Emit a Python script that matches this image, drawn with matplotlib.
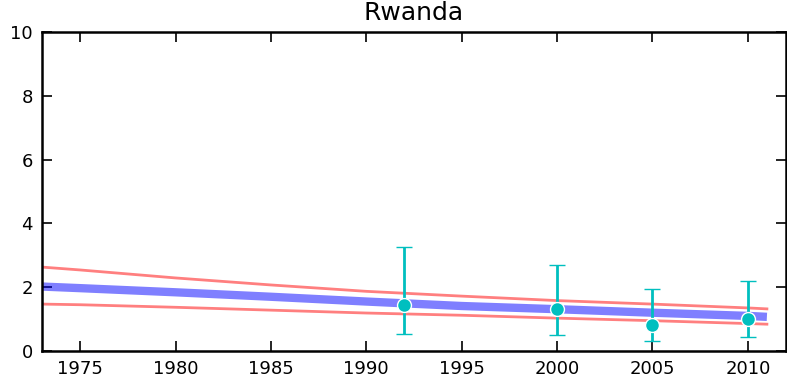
import matplotlib
matplotlib.use("Agg")
import matplotlib.pyplot as plt
import numpy as np

# model fit (median and uncertainty band)
years = [1973, 1975, 1980, 1985, 1990, 1995, 2000, 2005, 2010, 2011]
fit_mid = [2.02, 1.97, 1.84, 1.70, 1.55, 1.41, 1.31, 1.20, 1.10, 1.07]
fit_hi = [2.63, 2.54, 2.29, 2.07, 1.87, 1.72, 1.58, 1.47, 1.35, 1.32]
fit_lo = [1.47, 1.45, 1.37, 1.28, 1.19, 1.12, 1.03, 0.95, 0.86, 0.84]

# survey estimates with error bars
survey_years = [1992, 2000, 2005, 2010]
survey_val = [1.45, 1.32, 0.82, 1.00]
survey_hi = [3.25, 2.70, 1.94, 2.19]
survey_lo = [0.53, 0.50, 0.31, 0.44]

plt.rcParams['font.size'] = 13

fig = plt.figure(figsize=(7.87, 3.83), dpi=100)
ax = fig.add_axes([0.0534, 0.0836, 0.9453, 0.8328])

ax.plot(years, fit_hi, color='red', alpha=0.5, lw=2)
ax.plot(years, fit_lo, color='red', alpha=0.5, lw=2)
ax.plot(years, fit_mid, color='blue', alpha=0.5, lw=6, solid_capstyle='butt')

yerr = [np.array(survey_val) - np.array(survey_lo), np.array(survey_hi) - np.array(survey_val)]
ax.errorbar(survey_years, survey_val, yerr=yerr, fmt='o', color='c', ecolor='c',
            elinewidth=2, capsize=5.5, capthick=2, ms=10, mec='white', mew=1)

ax.set_xlim(1973, 2012)
ax.set_ylim(0, 10)
ax.set_xticks(range(1975, 2011, 5))
ax.set_yticks(range(0, 11, 2))
ax.tick_params(direction='in', top=True, right=True, length=7, width=1.2, pad=6.5)
for s in ax.spines.values():
    s.set_linewidth(1.8)
ax.set_title("Rwanda", fontsize=18, pad=9)
ax.set_xlabel("Survey year")

fig.savefig("out.png", dpi=100)
